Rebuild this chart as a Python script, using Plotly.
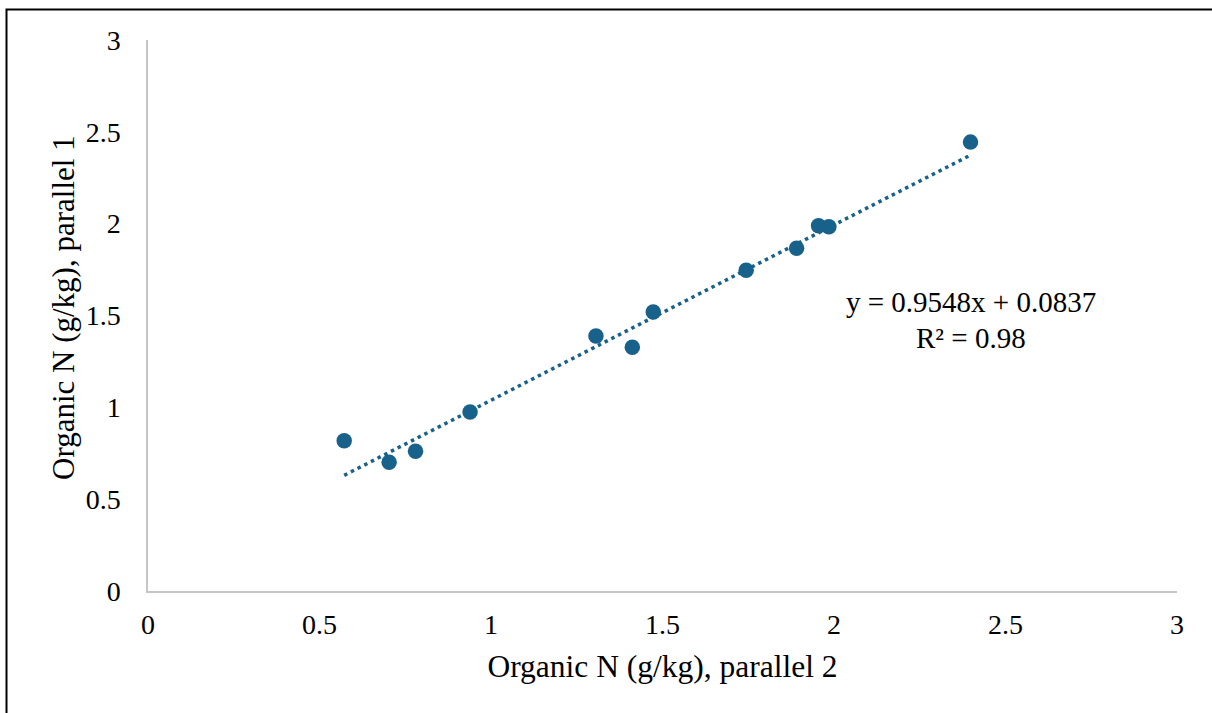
import numpy as np
import plotly.graph_objects as go

# Data
parallel_2 = [0.572, 0.703, 0.780, 0.939, 1.306, 1.412, 1.473, 1.744, 1.891, 1.955, 1.985, 2.398]
parallel_1 = [0.818, 0.701, 0.761, 0.975, 1.388, 1.327, 1.519, 1.746, 1.866, 1.989, 1.983, 2.444]
slope = 0.9548
intercept = 0.0837
r_squared = "0.98"
tick_vals = [0, 0.5, 1, 1.5, 2, 2.5, 3]
tick_text = ["0", "0.5", "1", "1.5", "2", "2.5", "3"]
x_title = "Organic N (g/kg), parallel 2"
y_title = "Organic N (g/kg), parallel 1"

color = "#17618a"
font_family = "Liberation Serif, Times New Roman, serif"

W, H = 1212, 713
ml, mr, mt, mb = 148, 35, 40, 122
pw, ph = W - ml - mr, H - mt - mb


def px_to_paper_x(px):
    return (px - ml) / pw


def px_to_paper_y(py):
    return (H - mb - py) / ph


trend_x = np.array([min(parallel_2), max(parallel_2)])
trend_y = slope * trend_x + intercept

fig = go.Figure()
fig.add_trace(go.Scatter(
    x=trend_x, y=trend_y, mode="lines",
    line=dict(color=color, width=3.5, dash="3.5px,4px"),
    hoverinfo="skip", showlegend=False,
))
fig.add_trace(go.Scatter(
    x=parallel_2, y=parallel_1, mode="markers",
    marker=dict(color=color, size=15.5, line=dict(width=0)),
    showlegend=False,
))

axis_common = dict(
    range=[0, 3], tickvals=tick_vals, ticktext=tick_text,
    showgrid=False, zeroline=False, showline=True,
    linecolor="#c6c6c6", linewidth=1.5, ticks="",
    tickfont=dict(family=font_family, size=28, color="black"),
    fixedrange=True,
)

fig.update_layout(
    width=W, height=H,
    margin=dict(l=ml, r=mr, t=mt, b=mb, pad=0),
    paper_bgcolor="white", plot_bgcolor="white",
    font=dict(family=font_family, color="black"),
    xaxis=dict(**axis_common,
               title=dict(text=x_title, font=dict(family=font_family, size=31.5, color="black"), standoff=16),
               ticklabelstandoff=8),
    yaxis=dict(**axis_common, ticklabelstandoff=20),
    showlegend=False,
)

# Y axis title as rotated annotation
fig.add_annotation(x=px_to_paper_x(63), y=px_to_paper_y(308), xref="paper", yref="paper",
                   text=y_title, textangle=-90, showarrow=False,
                   font=dict(family=font_family, size=31, color="black"),
                   xanchor="center", yanchor="middle")

# Equation annotation
fig.add_annotation(x=2.40, y=1.573, xref="x", yref="y", text=f"y = {slope}x + {intercept}",
                   showarrow=False, font=dict(family=font_family, size=29, color="black"),
                   xanchor="center", yanchor="middle")
fig.add_annotation(x=2.40, y=1.377, xref="x", yref="y", text=f"R² = {r_squared}",
                   showarrow=False, font=dict(family=font_family, size=29, color="black"),
                   xanchor="center", yanchor="middle")

# Outer frame (extends beyond right/bottom edges as in reference)
fig.add_shape(type="rect", xref="paper", yref="paper",
              x0=px_to_paper_x(6.5), x1=px_to_paper_x(1230),
              y0=px_to_paper_y(740), y1=px_to_paper_y(9.5),
              line=dict(color="black", width=2), fillcolor="rgba(0,0,0,0)", layer="above")

fig.write_html("out.html")
